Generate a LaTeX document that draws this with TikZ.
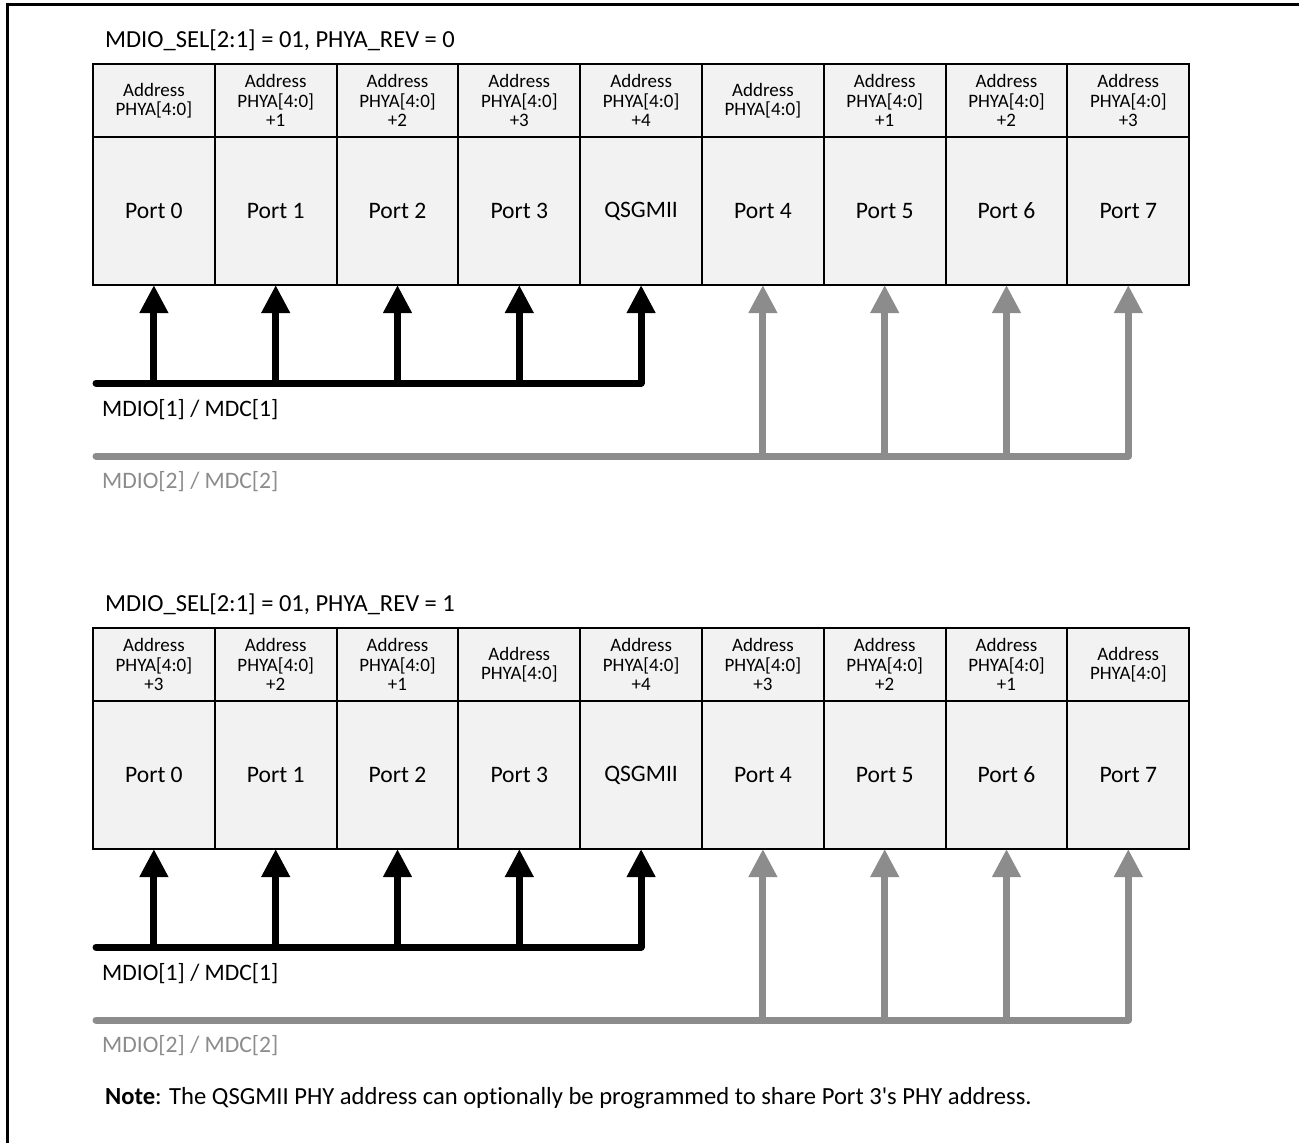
\documentclass[tikz,border=0pt]{standalone}
\usepackage{fontspec}
\setmainfont{Carlito}[Ligatures={NoCommon}]
\usetikzlibrary{arrows.meta}
\definecolor{cellfill}{RGB}{242,242,242}
\definecolor{busgray}{RGB}{140,140,140}
\newcommand{\addrtext}[1]{Address\\PHYA[4:0]#1}
\begin{document}
\begin{tikzpicture}[x=1pt,y=-1pt,
  cell/.style={draw=black,line width=2pt,fill=cellfill,minimum width=121.8pt,
    inner sep=0pt,outer sep=0pt,anchor=north west,align=center},
  hdr/.style={cell,minimum height=73pt,font=\fontsize{19}{19.5}\selectfont},
  portcell/.style={cell,minimum height=148pt,font=\fontsize{23.6}{28}\selectfont},
  tip/.style={-{Triangle[width=27pt,length=28pt]}},
  blackbus/.style={line width=7pt,draw=black,line cap=round,line join=round},
  graybus/.style={line width=7pt,draw=busgray,line cap=round,line join=round},
  blackarrow/.style={line width=7pt,draw=black,tip},
  grayarrow/.style={line width=7pt,draw=busgray,tip},
  title/.style={anchor=base west,inner sep=0pt,font=\fontsize{24.5}{29}\selectfont},
  buslabel/.style={anchor=base west,inner sep=0pt,font=\fontsize{23.6}{28}\selectfont},
]
\useasboundingbox (0,0) rectangle (1299,1143);
\fill[white] (0,0) rectangle (1299,1143);

% outer frame (top and left edges)
\draw[line width=3pt] (7,1143) -- (7,4) -- (1299,4);

% ---------- PHYA_REV = 0 ----------
\node[title] (tA) at (105,47) {MDIO\_SEL[2:1] = 01, PHYA\_REV = 0};
\foreach \i/\h/\p in {0/{\addrtext{}}/Port 0, 1/{\addrtext{\\+1}}/Port 1,
    2/{\addrtext{\\+2}}/Port 2, 3/{\addrtext{\\+3}}/Port 3, 4/{\addrtext{\\+4}}/QSGMII,
    5/{\addrtext{}}/Port 4, 6/{\addrtext{\\+1}}/Port 5, 7/{\addrtext{\\+2}}/Port 6,
    8/{\addrtext{\\+3}}/Port 7}{
  \node[hdr] (hA\i) at (93+121.8*\i,64) {\h};
  \node[portcell] (pA\i) at (93+121.8*\i,137) {\p};
}
\coordinate (busA) at (96,383);
\coordinate (gbusA) at (96,456);
\draw[graybus,tip] (gbusA) -| (pA8.south);
\foreach \i in {5,6,7}{\draw[grayarrow] (pA\i.south |- gbusA) -- (pA\i.south);}
\draw[blackbus,tip] (busA) -| (pA4.south);
\foreach \i in {0,1,2,3}{\draw[blackarrow] (pA\i.south |- busA) -- (pA\i.south);}
\node[buslabel] (lA1) at (102,416) {MDIO[1] / MDC[1]};
\node[buslabel,text=busgray] (lA2) at (102,488) {MDIO[2] / MDC[2]};

% ---------- PHYA_REV = 1 ----------
\node[title] (tB) at (105,611) {MDIO\_SEL[2:1] = 01, PHYA\_REV = 1};
\foreach \i/\h/\p in {0/{\addrtext{\\+3}}/Port 0, 1/{\addrtext{\\+2}}/Port 1,
    2/{\addrtext{\\+1}}/Port 2, 3/{\addrtext{}}/Port 3, 4/{\addrtext{\\+4}}/QSGMII,
    5/{\addrtext{\\+3}}/Port 4, 6/{\addrtext{\\+2}}/Port 5, 7/{\addrtext{\\+1}}/Port 6,
    8/{\addrtext{}}/Port 7}{
  \node[hdr] (hB\i) at (93+121.8*\i,628) {\h};
  \node[portcell] (pB\i) at (93+121.8*\i,701) {\p};
}
\coordinate (busB) at (96,947);
\coordinate (gbusB) at (96,1020);
\draw[graybus,tip] (gbusB) -| (pB8.south);
\foreach \i in {5,6,7}{\draw[grayarrow] (pB\i.south |- gbusB) -- (pB\i.south);}
\draw[blackbus,tip] (busB) -| (pB4.south);
\foreach \i in {0,1,2,3}{\draw[blackarrow] (pB\i.south |- busB) -- (pB\i.south);}
\node[buslabel] (lB1) at (102,980) {MDIO[1] / MDC[1]};
\node[buslabel,text=busgray] (lB2) at (102,1052) {MDIO[2] / MDC[2]};

% note
\node[anchor=base west,inner sep=0pt,font=\fontsize{24.6}{29}\selectfont] (note) at (105,1104)
  {\textbf{Note}: The QSGMII PHY address can optionally be programmed to share Port 3\textquotesingle s PHY address.};
\end{tikzpicture}
\end{document}
